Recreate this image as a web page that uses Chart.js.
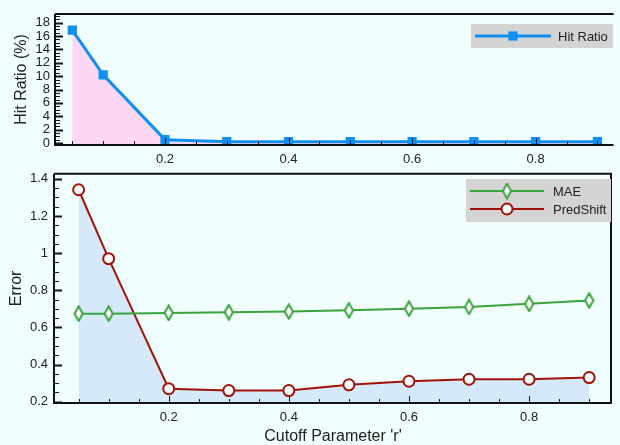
<!DOCTYPE html>
<html>
<head>
<meta charset="utf-8">
<script src="https://cdn.jsdelivr.net/npm/chart.js"></script>
<style>
  html, body { margin: 0; padding: 0; background: #f0fffe; }
  body { width: 620px; height: 445px; position: relative; overflow: hidden; }
  .panel { position: absolute; left: 0; }
  #topWrap { top: 0; width: 620px; height: 170px; }
  #botWrap { top: 160px; width: 620px; height: 285px; }
</style>
</head>
<body>
<div id="topWrap" class="panel"><canvas id="topChart" width="620" height="170"></canvas></div>
<div id="botWrap" class="panel"><canvas id="botChart" width="620" height="285"></canvas></div>
<script>
// data
const cutoff = [0.05, 0.1, 0.2, 0.3, 0.4, 0.5, 0.6, 0.7, 0.8, 0.9];
const hitRatio = [16.9, 10.2, 0.5, 0.2, 0.2, 0.2, 0.2, 0.2, 0.2, 0.2];
const mae = [0.674, 0.674, 0.678, 0.682, 0.685, 0.692, 0.701, 0.710, 0.727, 0.745];
const predShift = [1.341, 0.970, 0.270, 0.260, 0.260, 0.291, 0.310, 0.321, 0.321, 0.330];

const xTicks = [0.2, 0.4, 0.6, 0.8];
const hitTicks = [0, 2, 4, 6, 8, 10, 12, 14, 16, 18];
const errTicks = [0.2, 0.4, 0.6, 0.8, 1.0, 1.2, 1.4];

const FONT = "'Liberation Sans', Arial, Helvetica, sans-serif";
const BLUE = '#0f8ff2';
const GREEN = '#3aa33c';
const RED = '#a01208';

// thin diamond marker for MAE
function makeDiamond() {
    const c = document.createElement('canvas');
    c.width = 11; c.height = 17;
    const g = c.getContext('2d');
    g.beginPath();
    g.moveTo(5.5, 1.2);
    g.lineTo(9.6, 8.5);
    g.lineTo(5.5, 15.8);
    g.lineTo(1.4, 8.5);
    g.closePath();
    g.fillStyle = '#ffffff';
    g.fill();
    g.lineWidth = 2;
    g.strokeStyle = GREEN;
    g.stroke();
    return c;
}
const diamond = makeDiamond();

// frame + inward ticks, drawn from the chart's own scales
const framePlugin = {
    id: 'frame',
    afterDatasetsDraw(chart, args, opts) {
        const ctx = chart.ctx;
        const a = chart.chartArea;
        const xs = chart.scales.x, ys = chart.scales.y;
        ctx.save();
        ctx.strokeStyle = '#151515';
        ctx.lineWidth = 1;
        // minor/major ticks on x (bottom, pointing up)
        for (let v = Math.ceil(xs.min / opts.xMinor) * opts.xMinor; v <= xs.max + 1e-9; v += opts.xMinor) {
            const px = Math.round(xs.getPixelForValue(v)) + 0.5;
            const major = xTicks.some(t => Math.abs(t - v) < 1e-6);
            ctx.beginPath();
            ctx.moveTo(px, a.bottom);
            ctx.lineTo(px, a.bottom - (major ? 7 : 4));
            ctx.stroke();
        }
        // y ticks (left, pointing right)
        for (let v = Math.ceil(ys.min / opts.yMinor) * opts.yMinor; v <= ys.max + 1e-9; v += opts.yMinor) {
            const py = Math.round(ys.getPixelForValue(v)) + 0.5;
            const major = opts.yMajor.some(t => Math.abs(t - v) < 1e-6);
            ctx.lineWidth = major ? 2 : 1;
            ctx.beginPath();
            ctx.moveTo(a.left, py);
            ctx.lineTo(a.left + (major ? 8 : 5), py);
            ctx.stroke();
        }
        // axis frame
        ctx.lineWidth = 2;
        ctx.strokeStyle = '#111';
        ctx.beginPath();
        ctx.moveTo(a.left, a.top);
        ctx.lineTo(a.left, a.bottom);
        ctx.lineTo(a.right, a.bottom);
        if (opts.box) {
            ctx.moveTo(a.right - 1, a.bottom);
            ctx.lineTo(a.right - 1, a.top);
        }
        ctx.moveTo(a.left, a.top);
        ctx.lineTo(a.right, a.top);
        ctx.stroke();
        ctx.restore();
    }
};

// legend: grey box, line + marker, label
const legendPlugin = {
    id: 'boxLegend',
    afterDraw(chart, args, opts) {
        const ctx = chart.ctx;
        ctx.save();
        ctx.fillStyle = '#d4d4d4';
        ctx.fillRect(opts.x, opts.y, opts.w, opts.h);
        chart.data.datasets.forEach((ds, i) => {
            const y = opts.y + opts.first + i * opts.step;
            ctx.strokeStyle = ds.borderColor;
            ctx.lineWidth = ds.borderWidth;
            ctx.beginPath();
            ctx.moveTo(opts.x + 4, y);
            ctx.lineTo(opts.x + 4 + opts.lineLen, y);
            ctx.stroke();
            const mx = opts.x + 4 + opts.lineLen / 2;
            if (ds.pointStyle === 'circle') {
                ctx.fillStyle = ds.pointBackgroundColor;
                ctx.strokeStyle = ds.pointBorderColor;
                ctx.lineWidth = ds.pointBorderWidth;
                ctx.beginPath();
                ctx.arc(mx, y, ds.pointRadius, 0, Math.PI * 2);
                ctx.fill();
                ctx.stroke();
            } else if (ds.pointStyle === 'rect') {
                ctx.fillStyle = ds.pointBackgroundColor;
                const s = ds.pointRadius * Math.SQRT1_2;
                ctx.fillRect(mx - s, y - s, 2 * s, 2 * s);
            } else {
                Chart.helpers.drawPoint(ctx, { pointStyle: ds.pointStyle, radius: ds.pointRadius, borderWidth: 1, rotation: 0 }, mx, y);
            }
            ctx.fillStyle = '#222';
            ctx.font = '13px ' + FONT;
            ctx.textBaseline = 'middle';
            ctx.fillText(ds.label, opts.x + opts.textX, y + 1);
        });
        ctx.restore();
    }
};

Chart.defaults.font.family = FONT;
Chart.defaults.color = '#222';
Chart.defaults.animation = false;

function xScale(min, max) {
    return {
        type: 'linear', min: min, max: max,
        afterBuildTicks: s => { s.ticks = xTicks.map(v => ({ value: v })); },
        grid: { display: false, drawTicks: false },
        border: { display: false },
        ticks: { font: { size: 13 }, padding: 7, maxRotation: 0, autoSkip: false, callback: v => String(v) }
    };
}

// top panel: hit ratio
new Chart(document.getElementById('topChart'), {
    type: 'line',
    data: {
        labels: cutoff,
        datasets: [{
            label: 'Hit Ratio',
            data: cutoff.map((c, i) => ({ x: c, y: hitRatio[i] })),
            borderColor: BLUE,
            borderWidth: 3,
            pointStyle: 'rect',
            pointRadius: 6.5,
            pointBackgroundColor: BLUE,
            pointBorderColor: BLUE,
            pointBorderWidth: 0,
            fill: 'start',
            backgroundColor: '#fdd7f4',
            tension: 0
        }]
    },
    options: {
        responsive: false,
        layout: { padding: { top: 14, left: 0, right: 0, bottom: 0 } },
        scales: {
            x: Object.assign(xScale(0.022, 0.926), {
                afterFit: s => { s.height = 25; }
            }),
            y: {
                type: 'linear', min: -0.3, max: 19.3,
                afterBuildTicks: s => { s.ticks = hitTicks.map(v => ({ value: v })); },
                afterFit: s => { s.width = 55; },
                grid: { display: false, drawTicks: false },
                border: { display: false },
                ticks: { font: { size: 13 }, padding: 5, autoSkip: false },
                title: { display: true, text: 'Hit Ratio (%)', font: { size: 16, lineHeight: 1.2 }, padding: { top: 12, bottom: 0 } }
            }
        },
        plugins: {
            legend: { display: false },
            tooltip: { enabled: false },
            frame: { xMinor: 0.05, yMinor: 0.5, yMajor: hitTicks, box: false },
            boxLegend: { x: 471, y: 24, w: 142, h: 24, first: 12, step: 18, lineLen: 76, textX: 87 }
        }
    },
    plugins: [framePlugin, legendPlugin]
});

// bottom panel: MAE and PredShift
new Chart(document.getElementById('botChart'), {
    type: 'line',
    data: {
        labels: cutoff,
        datasets: [{
            label: 'MAE',
            data: cutoff.map((c, i) => ({ x: c, y: mae[i] })),
            borderColor: GREEN,
            borderWidth: 2,
            pointStyle: diamond,
            pointRadius: 6,
            fill: false,
            tension: 0
        }, {
            label: 'PredShift',
            data: cutoff.map((c, i) => ({ x: c, y: predShift[i] })),
            borderColor: RED,
            borderWidth: 2,
            pointStyle: 'circle',
            pointRadius: 5.5,
            pointBackgroundColor: '#ffffff',
            pointBorderColor: RED,
            pointBorderWidth: 2,
            fill: 'start',
            backgroundColor: '#d5e9fb',
            tension: 0
        }]
    },
    options: {
        responsive: false,
        layout: { padding: { top: 11, left: 0, right: 1, bottom: 0 } },
        scales: {
            x: Object.assign(xScale(0.009, 0.938), {
                afterFit: s => { s.height = 42; },
                title: { display: true, text: "Cutoff Parameter 'r'", font: { size: 16, lineHeight: 1 }, padding: { top: 0, bottom: 0 } }
            }),
            y: {
                type: 'linear', min: 0.193, max: 1.427,
                afterBuildTicks: s => { s.ticks = errTicks.map(v => ({ value: v })); },
                afterFit: s => { s.width = 54; },
                grid: { display: false, drawTicks: false },
                border: { display: false },
                ticks: { font: { size: 13 }, padding: 6, autoSkip: false, callback: v => String(Math.round(v * 10) / 10) },
                title: { display: true, text: 'Error', font: { size: 16, lineHeight: 1.2 }, padding: { top: 7, bottom: 0 } }
            }
        },
        plugins: {
            legend: { display: false },
            tooltip: { enabled: false },
            frame: { xMinor: 0.05, yMinor: 0.05, yMajor: errTicks, box: true },
            boxLegend: { x: 466, y: 19, w: 145, h: 43, first: 12, step: 18, lineLen: 74, textX: 87 }
        }
    },
    plugins: [framePlugin, legendPlugin]
});
</script>
</body>
</html>
